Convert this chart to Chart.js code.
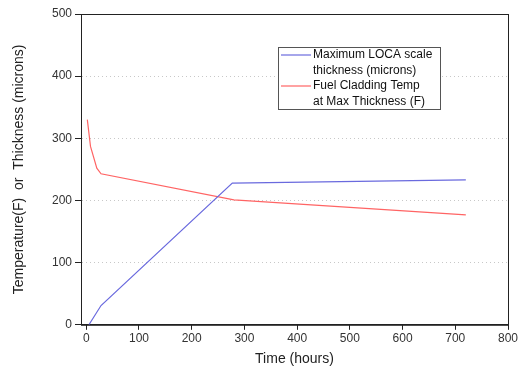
<!DOCTYPE html>
<html>
<head>
<meta charset="utf-8">
<script src="https://cdn.jsdelivr.net/npm/chart.js@4"></script>
<style>
  html, body { margin: 0; padding: 0; background: #fff; }
  #wrap { width: 525px; height: 378px; }
</style>
</head>
<body>
<div id="wrap"><canvas id="chart" width="525" height="378"></canvas></div>
<script>
// values
const thicknessHours = [5, 28, 277, 720];
const thicknessValues = [0, 31, 228, 233];
const tempHours = [2, 8, 20, 28, 280, 720];
const tempValues = [330, 287, 252, 243, 201, 177];
const xTicks = [0, 100, 200, 300, 400, 500, 600, 700, 800];
const legendLines = [
    ['Maximum LOCA scale', 'thickness (microns)'],
    ['Fuel Cladding Temp', 'at Max Thickness (F)']
];

const blue = '#6a6ade';
const red = '#ff6464';
const font = 'Liberation Sans, Arial, sans-serif';

const boxPlugin = {
    id: 'box',
    afterDraw(chart) {
        const ctx = chart.ctx;
        const a = chart.chartArea;
        ctx.save();
        ctx.strokeStyle = '#222';
        ctx.lineWidth = 1;
        ctx.strokeRect(a.left + 0.5, a.top + 0.5, a.right - a.left, a.bottom - a.top);

        // legend box
        const lx = 278, ly = 47, lw = 162, lh = 62;
        ctx.fillStyle = '#fff';
        ctx.fillRect(lx, ly, lw, lh);
        ctx.strokeStyle = '#555';
        ctx.strokeRect(lx + 0.5, ly + 0.5, lw, lh);
        ctx.font = '12px ' + font;
        ctx.textBaseline = 'middle';
        ctx.fillStyle = '#111';
        const colors = [blue, red];
        legendLines.forEach((lines, i) => {
            const y0 = ly + 8 + i * 31;
            ctx.strokeStyle = colors[i];
            ctx.lineWidth = 1.2;
            ctx.beginPath();
            ctx.moveTo(lx + 3, y0);
            ctx.lineTo(lx + 33, y0);
            ctx.stroke();
            lines.forEach((t, j) => ctx.fillText(t, lx + 35, y0 + j * 15.5));
        });
        ctx.restore();
    }
};

new Chart(document.getElementById('chart'), {
    type: 'line',
    data: {
        datasets: [
            {
                label: 'Maximum LOCA scale thickness (microns)',
                data: thicknessHours.map((h, i) => ({x: h, y: thicknessValues[i]})),
                borderColor: blue,
                borderWidth: 1.2,
                pointRadius: 0,
                tension: 0
            },
            {
                label: 'Fuel Cladding Temp at Max Thickness (F)',
                data: tempHours.map((h, i) => ({x: h, y: tempValues[i]})),
                borderColor: red,
                borderWidth: 1.2,
                pointRadius: 0,
                tension: 0
            }
        ]
    },
    options: {
        responsive: false,
        animation: false,
        layout: { padding: { top: 14, right: 17, left: 4, bottom: 6 } },
        plugins: { legend: { display: false }, tooltip: { enabled: false } },
        scales: {
            x: {
                type: 'linear',
                min: -10,
                max: 800,
                afterBuildTicks: s => { s.ticks = xTicks.map(v => ({value: v})); },
                grid: { drawOnChartArea: false, tickColor: '#222', tickLength: 5 },
                border: { color: '#222', width: 1 },
                ticks: { color: '#333', font: { family: font, size: 12 }, padding: 2, maxRotation: 0 },
                title: { display: true, text: 'Time (hours)', color: '#222', font: { family: font, size: 14 }, padding: { top: 3 } }
            },
            y: {
                min: 0,
                max: 500,
                afterFit: s => { s.width = 77; },
                ticks: { stepSize: 100, color: '#333', font: { family: font, size: 12 }, padding: 3 },
                grid: { color: '#c8c8c8', tickColor: '#222', tickLength: 6, tickBorderDash: [] },
                border: { color: '#222', width: 1, dash: [1, 3] },
                title: { display: true, text: 'Temperature(F)  or  Thickness (microns)', color: '#222', font: { family: font, size: 14 }, padding: { top: 7, bottom: 0 } }
            }
        }
    },
    plugins: [boxPlugin]
});
</script>
</body>
</html>
